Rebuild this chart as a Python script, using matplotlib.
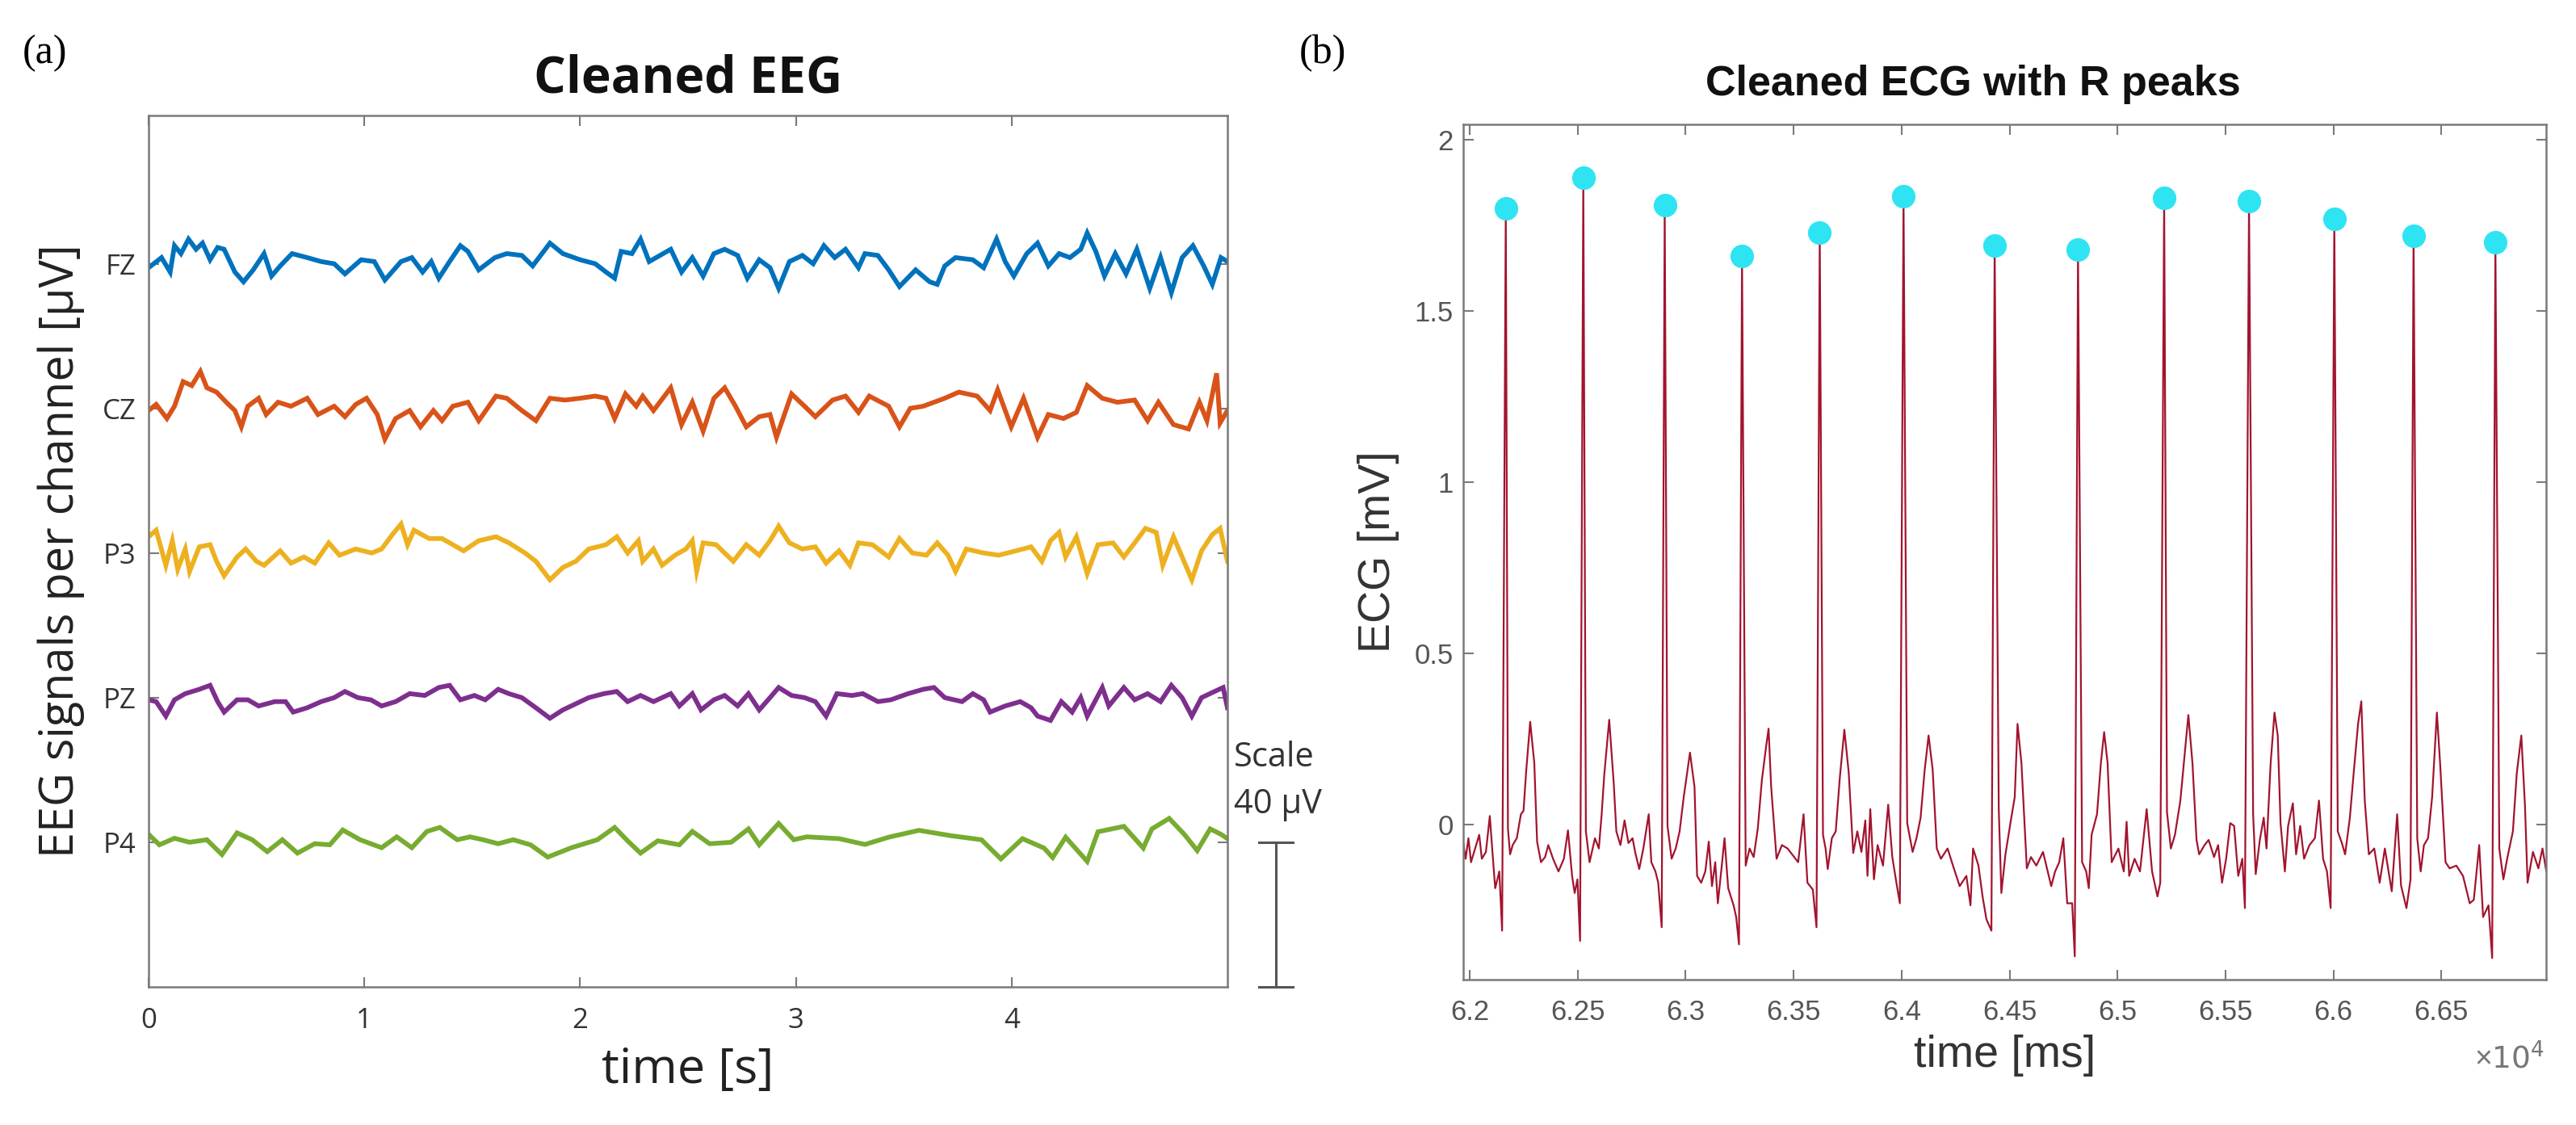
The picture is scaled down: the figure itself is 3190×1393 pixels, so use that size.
import numpy as np
import matplotlib.pyplot as plt
from matplotlib.ticker import FuncFormatter

# ---- EEG (panel a): channel names, vertical offsets in uV, MATLAB colours
channels = ['FZ', 'CZ', 'P3', 'PZ', 'P4']
offsets = [200, 160, 120, 80, 40]
eeg_colors = ['#0072BD', '#D95319', '#EDB120', '#7E2F8E', '#77AC30']

fz_t = [0.0, 0.06, 0.1, 0.12, 0.15, 0.185, 0.22, 0.25, 0.285, 0.32, 0.35, 0.4, 0.44, 0.485, 0.535, 0.57,
        0.61, 0.665, 0.735, 0.8, 0.86, 0.91, 0.985, 1.046, 1.095, 1.17, 1.22, 1.27, 1.31, 1.345, 1.395,
        1.445, 1.48, 1.53, 1.605, 1.66, 1.73, 1.78, 1.86, 1.92, 2.0, 2.07, 2.12, 2.16, 2.19, 2.24, 2.28,
        2.32, 2.37, 2.42, 2.47, 2.52, 2.57, 2.62, 2.67, 2.73, 2.775, 2.83, 2.88, 2.92, 2.97, 3.03, 3.08,
        3.13, 3.18, 3.23, 3.29, 3.32, 3.38, 3.43, 3.48, 3.555, 3.62, 3.655, 3.69, 3.74, 3.82, 3.87, 3.93,
        3.97, 4.01, 4.07, 4.12, 4.17, 4.22, 4.27, 4.32, 4.35, 4.39, 4.43, 4.48, 4.53, 4.58, 4.64, 4.69,
        4.74, 4.79, 4.84, 4.89, 4.93, 4.97, 5.0]
fz_v = [-1.1, 1.7, -2.3, 5, 2.8, 6.8, 4, 5.7, 1.1, 4.5, 4, -2.3, -5, -1.7, 2.8, -3.4,
        -0.6, 2.8, 1.7, 0.6, 0, -2.8, 1.1, 0.6, -4.5, 0.6, 1.7, -2.3, 0.6, -4, 0.6,
        5, 3.4, -1.7, 1.7, 2.8, 2.3, -0.6, 5.7, 2.8, 1.1, 0, -2.3, -4, 3.4, 2.8, 6.8,
        0.6, 2.3, 4, -2.3, 1.7, -3.4, 2.8, 4, 2.3, -4, 1.1, -1.1, -6.8, 0.6, 2.3, 0,
        5, 1.7, 4, -1.1, 2.8, 2.3, -1.7, -6.3, -1.7, -5, -5.7, -0.6, 1.7, 1.1, -1.1, 6.8,
        0.6, -3.4, 2.8, 5.7, -0.6, 2.8, 1.7, 4, 8.5, 3.4, -3.4, 2.8, -2.8, 4, -6.8, 1.7,
        -8, 1.7, 5, -0.6, -5.7, 1.7, 0.6]

cz_t = [0.0, 0.035, 0.085, 0.12, 0.16, 0.2, 0.24, 0.27, 0.315, 0.36, 0.4, 0.43, 0.46, 0.51, 0.545, 0.6,
        0.66, 0.735, 0.785, 0.86, 0.91, 0.96, 1.01, 1.06, 1.095, 1.145, 1.21, 1.26, 1.32, 1.36, 1.41,
        1.48, 1.53, 1.61, 1.66, 1.73, 1.795, 1.86, 1.93, 2.0, 2.07, 2.12, 2.16, 2.21, 2.26, 2.29, 2.34,
        2.42, 2.47, 2.52, 2.57, 2.62, 2.67, 2.72, 2.77, 2.83, 2.88, 2.91, 2.98, 3.04, 3.09, 3.17, 3.23,
        3.29, 3.34, 3.43, 3.48, 3.53, 3.59, 3.69, 3.755, 3.84, 3.9, 3.935, 3.998, 4.055, 4.12, 4.17,
        4.24, 4.3, 4.35, 4.42, 4.49, 4.57, 4.63, 4.68, 4.75, 4.82, 4.87, 4.905, 4.95, 4.966, 5.0]
cz_v = [-0.6, 1.1, -2.8, 0.6, 7.4, 6.3, 10.2, 5.7, 4.5, 1.7, -0.6, -5.1, 0.6, 2.8, -1.7, 1.7,
        0.6, 2.8, -1.7, 0.6, -2.3, 1.1, 2.8, -1.7, -8.5, -2.8, -0.6, -5.1, -0.6, -3.4, 0.6,
        1.7, -3.4, 3.4, 2.8, -0.6, -3.4, 2.8, 2.3, 2.8, 3.4, 2.8, -2.8, 4, 0.6, 3.4, -0.6,
        5.7, -4.5, 1.7, -6.3, 2.8, 5.7, 0.6, -5.1, -2.3, -1.7, -8, 4, 0.6, -2.3, 2.3, 3.4,
        -1.1, 3.4, 0.6, -5.1, 0, 0.6, 2.8, 4.5, 3.4, -0.6, 5.1, -5.1, 2.8, -8, -1.7,
        -2.8, -1.1, 6.3, 2.8, 1.7, 2.3, -3.4, 1.7, -4.5, -5.7, 1.7, -3.4, 9.7, -4, -0.6]

p3_t = [0.0, 0.035, 0.08, 0.11, 0.135, 0.17, 0.19, 0.235, 0.285, 0.315, 0.35, 0.41, 0.45, 0.5, 0.535,
        0.61, 0.66, 0.72, 0.77, 0.835, 0.885, 0.96, 1.034, 1.08, 1.13, 1.17, 1.2, 1.23, 1.3, 1.36, 1.41,
        1.46, 1.53, 1.61, 1.67, 1.745, 1.795, 1.86, 1.92, 1.98, 2.04, 2.12, 2.17, 2.22, 2.27, 2.29, 2.34,
        2.38, 2.44, 2.49, 2.52, 2.54, 2.57, 2.63, 2.71, 2.77, 2.83, 2.88, 2.92, 2.97, 3.03, 3.09, 3.14,
        3.2, 3.25, 3.29, 3.355, 3.43, 3.48, 3.54, 3.605, 3.655, 3.705, 3.74, 3.79, 3.87, 3.94, 4.02, 4.09,
        4.14, 4.18, 4.22, 4.25, 4.3, 4.35, 4.4, 4.47, 4.52, 4.57, 4.62, 4.67, 4.7, 4.75, 4.79, 4.835,
        4.88, 4.93, 4.966, 5.0]
p3_v = [4.5, 6.3, -3.4, 3.4, -4.5, 1.1, -5.1, 1.7, 2.3, -2.3, -6.3, -1.1, 1.1, -2.3, -3.4,
        0.6, -2.8, -1.1, -2.8, 2.8, -0.6, 1.1, 0, 1.1, 5.1, 8, 2.3, 6.3, 4, 4, 2.3,
        0.6, 3.4, 4.5, 2.8, 0, -2.3, -7.4, -4, -2.3, 1.1, 2.3, 4.5, 0, 3.4, -2.3, 1.1,
        -3.4, -0.6, 1.1, 3.4, -5.1, 2.8, 2.3, -2.3, 2.3, -0.6, 3.4, 7.4, 2.8, 1.1, 1.7, -2.8,
        0.6, -3.4, 2.8, 2.3, -1.1, 4, 0, -0.6, 2.8, -0.6, -5.1, 1.1, 0, -0.6, 0.6, 1.7,
        -2.3, 3.4, 5.7, -1.1, 4.5, -5.7, 2.3, 2.8, -1.1, 2.8, 6.8, 5.7, -3.4, 4.5, -1.1, -7.4,
        0.6, 5.1, 6.8, -2.3]

pz_t = [0.0, 0.035, 0.08, 0.12, 0.17, 0.235, 0.285, 0.32, 0.35, 0.41, 0.46, 0.51, 0.585, 0.635, 0.67,
        0.735, 0.8, 0.86, 0.91, 0.97, 1.03, 1.08, 1.145, 1.21, 1.28, 1.345, 1.395, 1.445, 1.51, 1.56,
        1.62, 1.67, 1.73, 1.795, 1.86, 1.92, 1.98, 2.04, 2.11, 2.17, 2.22, 2.28, 2.34, 2.42, 2.46, 2.52,
        2.56, 2.62, 2.67, 2.73, 2.78, 2.83, 2.88, 2.92, 2.98, 3.04, 3.09, 3.14, 3.19, 3.26, 3.31, 3.38,
        3.44, 3.52, 3.59, 3.64, 3.69, 3.77, 3.82, 3.87, 3.9, 3.97, 4.04, 4.09, 4.12, 4.18, 4.23, 4.28,
        4.32, 4.35, 4.42, 4.45, 4.52, 4.57, 4.63, 4.69, 4.74, 4.79, 4.835, 4.88, 4.94, 4.98, 5.0]
pz_v = [-0.6, -1.1, -5.1, -0.6, 1.1, 2.3, 3.4, -1.1, -4, -0.6, -0.6, -2.3, -1.1, -1.1, -4,
        -2.8, -1.1, 0, 1.7, 0, -0.6, -2.3, -1.1, 1.1, 0.6, 2.8, 3.4, -0.6, 0.6, -0.6,
        2.3, 1.1, 0, -2.8, -5.7, -3.4, -1.7, 0, 1.1, 1.7, -1.1, 0.6, -1.1, 1.1, -2.3, 1.1,
        -3.4, -0.6, 0.6, -2.3, 1.1, -3.4, 0, 2.8, 0.6, 0, -1.1, -5.1, 1.1, 0.6, 1.1, -1.1,
        -0.6, 1.1, 2.3, 2.8, 0, -1.1, 1.1, -0.6, -4, -2.3, -1.1, -2.8, -5.1, -6.3, -1.1, -4,
        0, -5.1, 2.8, -2.3, 2.8, -0.6, 1.1, -1.1, 3.4, 0, -5.1, 0, 1.7, 2.8, -2.8]

p4_t = [0.0, 0.05, 0.12, 0.19, 0.27, 0.34, 0.41, 0.48, 0.55, 0.62, 0.69, 0.77, 0.84, 0.9, 0.98,
        1.08, 1.15, 1.22, 1.29, 1.35, 1.43, 1.49, 1.55, 1.62, 1.69, 1.77, 1.85, 1.96, 2.08, 2.16, 2.22,
        2.28, 2.36, 2.46, 2.52, 2.6, 2.7, 2.78, 2.83, 2.92, 2.99, 3.05, 3.2, 3.32, 3.43, 3.57, 3.72,
        3.86, 3.95, 4.05, 4.15, 4.19, 4.25, 4.35, 4.4, 4.52, 4.61, 4.65, 4.73, 4.8, 4.86, 4.92, 4.97, 5.0]
p4_v = [2.2, -0.7, 1.1, 0, 0.7, -3.4, 2.6, 0.7, -2.6, 0.7, -3, -0.4, -0.7, 3.4, 0.7,
        -1.5, 1.5, -1.5, 3, 4.1, 0.7, 1.5, 0.7, -0.4, 0.7, -0.7, -4.1, -1.5, 0.7, 4.1, 0.4,
        -3, 0.4, -0.7, 3, -0.4, 0, 3.7, -0.7, 5.2, 0.7, 1.5, 1.0, -0.6, 1.4, 3.3, 1.8,
        0.7, -4.6, 1, -1.6, -4.2, 1.4, -5.3, 2.9, 4.4, -1.6, 3.7, 6.6, 2.2, -2.3, 3.7, 2.2, 1.0]

eeg_t = [fz_t, cz_t, p3_t, pz_t, p4_t]
eeg_v = [fz_v, cz_v, p3_v, pz_v, p4_v]

# ---- ECG (panel b): time in ms, amplitude in mV (R peaks kept separately)
ecg_t = [61969, 61981, 61994, 62006, 62025, 62044, 62056, 62075, 62093, 62106, 62118, 62137, 62150,
         62177, 62187, 62199, 62218, 62237, 62249, 62262, 62280, 62299, 62312, 62330, 62349, 62364,
         62386, 62411, 62436, 62455, 62474, 62486, 62499, 62511,
         62538, 62555, 62580, 62598, 62611, 62623, 62646, 62667, 62679, 62698, 62717, 62735, 62754,
         62767, 62785, 62804, 62829, 62841, 62860, 62873, 62889,
         62916, 62935, 62954, 62972, 62991, 63020, 63041, 63053, 63072, 63091, 63107, 63122, 63137,
         63149, 63166, 63180, 63197, 63222, 63234, 63247,
         63278, 63296, 63315, 63334, 63353, 63371, 63384, 63396, 63421, 63446, 63472, 63521, 63546,
         63564, 63589, 63606,
         63636, 63648, 63658, 63677, 63695, 63714, 63735, 63755, 63776, 63795, 63814, 63832, 63842,
         63855, 63872, 63889, 63914, 63938, 63957, 63976, 63992,
         64026, 64051, 64069, 64088, 64107, 64125, 64144, 64163, 64182, 64213, 64238, 64269, 64300,
         64319, 64331, 64356, 64375, 64393, 64416,
         64450, 64462, 64481, 64506, 64524, 64537, 64555, 64580, 64599, 64624, 64655, 64693, 64711,
         64730, 64749, 64767, 64790, 64802,
         64836, 64855, 64867, 64880, 64905, 64923, 64938, 64954, 64973, 65004, 65029, 65042, 65054,
         65079, 65104, 65135, 65160, 65185, 65198,
         65229, 65247, 65266, 65291, 65328, 65347, 65366, 65378, 65403, 65422, 65447, 65466, 65484,
         65503, 65522, 65540, 65559, 65578, 65590,
         65628, 65640, 65659, 65677, 65690, 65709, 65727, 65742, 65755, 65775, 65790, 65812, 65827,
         65846, 65864, 65889, 65914, 65933, 65952, 65970, 65987,
         66020, 66039, 66054, 66076, 66095, 66114, 66129, 66145, 66164, 66189, 66214, 66238, 66270,
         66295, 66313, 66338, 66357,
         66388, 66404, 66419, 66438, 66457, 66479, 66494, 66519, 66538, 66569, 66600, 66631, 66650,
         66675, 66693, 66718, 66735,
         66768, 66787, 66806, 66831, 66849, 66870, 66887, 66899, 66924, 66949, 66968, 66986]
ecg_v = [-0.05, -0.10, -0.04, -0.11, -0.07, -0.03, -0.10, -0.08, 0.025, -0.087, -0.186, -0.137, -0.31,
         -0.012, -0.087, -0.06, -0.04, 0.03, 0.04, 0.16, 0.30, 0.18, -0.05, -0.11, -0.095, -0.06,
         -0.10, -0.137, -0.10, -0.017, -0.15, -0.20, -0.16, -0.34,
         -0.02, -0.11, -0.04, -0.07, 0.03, 0.145, 0.306, 0.12, -0.02, -0.06, 0.012, -0.054, -0.04,
         -0.083, -0.13, -0.07, 0.03, -0.11, -0.137, -0.17, -0.30,
         -0.004, -0.10, -0.07, -0.02, 0.08, 0.21, 0.11, -0.15, -0.17, -0.137, -0.05, -0.18, -0.11,
         -0.23, -0.128, -0.04, -0.186, -0.236, -0.27, -0.35,
         -0.12, -0.07, -0.095, -0.012, 0.13, 0.22, 0.28, 0.11, -0.10, -0.06, -0.07, -0.11, 0.03,
         -0.17, -0.19, -0.30,
         -0.03, -0.07, -0.13, -0.04, -0.02, 0.137, 0.277, 0.153, -0.083, -0.02, -0.08, 0.012, -0.15,
         0.045, -0.16, -0.06, -0.12, 0.058, -0.095, -0.17, -0.23,
         0.004, -0.08, -0.04, 0.02, 0.16, 0.26, 0.16, -0.07, -0.10, -0.07, -0.12, -0.18, -0.15,
         -0.236, -0.07, -0.12, -0.21, -0.277, -0.31,
         0.045, -0.20, -0.087, 0.012, 0.08, 0.294, 0.18, -0.128, -0.095, -0.12, -0.08, -0.18, -0.137,
         -0.11, -0.04, -0.23, -0.23, -0.385,
         -0.11, -0.137, -0.186, -0.03, 0.03, 0.18, 0.27, 0.18, -0.11, -0.07, -0.137, 0.008, -0.15,
         -0.10, -0.137, 0.045, -0.137, -0.21, -0.17,
         0.037, -0.07, -0.03, 0.07, 0.32, 0.18, -0.045, -0.087, -0.06, -0.045, -0.095, -0.06, -0.17,
         -0.10, 0.004, -0.004, -0.15, -0.10, -0.244,
         0.03, -0.145, -0.045, 0.02, -0.07, 0.178, 0.327, 0.26, 0.004, -0.137, -0.004, 0.062, -0.087,
         -0.004, -0.10, -0.06, -0.04, 0.07, -0.10, -0.137, -0.244,
         -0.02, -0.054, -0.087, 0.02, 0.16, 0.294, 0.36, 0.07, -0.087, -0.07, -0.17, -0.07, -0.195,
         0.03, -0.178, -0.244, -0.16,
         -0.04, -0.137, -0.06, -0.04, 0.08, 0.327, 0.178, -0.11, -0.128, -0.12, -0.15, -0.23, -0.22,
         -0.06, -0.27, -0.236, -0.39,
         -0.07, -0.16, -0.095, -0.02, 0.15, 0.26, 0.054, -0.17, -0.08, -0.128, -0.07, -0.137]

r_t = [62167, 62526, 62903, 63261, 63621, 64009, 64431, 64817, 65216, 65609, 66004, 66371, 66750]
r_v = [1.80, 1.89, 1.81, 1.66, 1.73, 1.835, 1.69, 1.68, 1.83, 1.82, 1.77, 1.72, 1.70]

ecg_ticks = [62000, 62500, 63000, 63500, 64000, 64500, 65000, 65500, 66000, 66500]
ecg_yticks = [0, 0.5, 1, 1.5, 2]

spine_col = '#7a7a7a'
left_font = 'Open Sans'
right_font = 'Liberation Sans'

plt.rcParams['mathtext.fontset'] = 'custom'
plt.rcParams['mathtext.rm'] = right_font

fig = plt.figure(figsize=(31.9, 13.93), dpi=100)

# ================= (a) Cleaned EEG =================
ax1 = fig.add_axes([0.05768, 0.12275, 0.41881, 0.77459])
for t, v, off, c in zip(eeg_t, eeg_v, offsets, eeg_colors):
    ax1.plot(t, np.array(v) + off, color=c, lw=4.2, solid_joinstyle='miter')
ax1.set_xlim(0, 5)
ax1.set_ylim(0, 241)
ax1.set_xticks([0, 1, 2, 3, 4])
ax1.set_yticks(offsets)
ax1.set_yticklabels(channels)
ax1.tick_params(axis='x', pad=18)
ax1.tick_params(axis='y', pad=11)
for lab in ax1.get_xticklabels() + ax1.get_yticklabels():
    lab.set_fontfamily(left_font)
    lab.set_fontsize(25)
    lab.set_color('#333333')
ax1.set_xlabel('time [s]', fontsize=44, family=left_font, color='#222222', labelpad=10)
ax1.set_ylabel('EEG signals per channel [µV]', fontsize=41.5, family=left_font, color='#222222',
               labelpad=16)
fig.text(0.2671, 0.918, 'Cleaned EEG', fontsize=45, family=left_font, fontweight='bold',
         ha='center', va='baseline', color='#111111')

# scale bar (40 uV) just outside the axes
bar_x = 5.225
ax1.plot([bar_x, bar_x], [0, 40], color='#555555', lw=2.2, clip_on=False)
ax1.plot([bar_x - 0.08, bar_x + 0.08], [40, 40], color='#555555', lw=2.2, clip_on=False)
ax1.plot([bar_x - 0.08, bar_x + 0.08], [0, 0], color='#555555', lw=2.2, clip_on=False)
ax1.text(5.03, 63.5, 'Scale', fontsize=30, family=left_font, color='#333333', va='center',
         clip_on=False)
ax1.text(5.03, 50.5, '40 µV', fontsize=30, family=left_font, color='#333333', va='center',
         clip_on=False)

# ================= (b) Cleaned ECG with R peaks =================
ax2 = fig.add_axes([0.56803, 0.12922, 0.42038, 0.76023])
t_all = np.concatenate([ecg_t, r_t])
v_all = np.concatenate([ecg_v, r_v])
order = np.argsort(t_all)
ax2.plot(t_all[order], v_all[order], color='#A2142F', lw=1.6)
ax2.plot(r_t, r_v, 'o', ms=20, mfc='#2EE4F2', mec='#2EE4F2', zorder=3)
ax2.set_xlim(61970, 66985)
ax2.set_ylim(-0.453, 2.045)
ax2.set_xticks(ecg_ticks)
ax2.set_yticks(ecg_yticks)
ax2.xaxis.set_major_formatter(FuncFormatter(lambda x, pos: f'{x / 1e4:g}'))
ax2.yaxis.set_major_formatter(FuncFormatter(lambda y, pos: f'{y:g}'))
ax2.tick_params(axis='x', pad=17)
ax2.tick_params(axis='y', pad=9)
for lab in ax2.get_xticklabels() + ax2.get_yticklabels():
    lab.set_fontfamily(right_font)
    lab.set_fontsize(25)
    lab.set_color('#555555')
ax2.set_xlabel('time [ms]', fontsize=40, family=right_font, color='#333333', labelpad=8)
ax2.set_ylabel('ECG [mV]', fontsize=40, family=right_font, color='#333333', labelpad=13)
fig.text(0.7658, 0.915, 'Cleaned ECG with R peaks', fontsize=37.5, family=right_font,
         fontweight='bold', ha='center', va='baseline', color='#111111')
fig.text(0.9605, 0.0589, r'$\times\mathregular{10^4}$', fontsize=27, color='#777777',
         va='center')

for ax in (ax1, ax2):
    for s in ax.spines.values():
        s.set_color(spine_col)
        s.set_linewidth(1.8)
    ax.tick_params(direction='in', length=9, width=1.5, color=spine_col, top=True, right=True)

# panel letters
fig.text(0.0088, 0.953, '(a)', fontsize=36, family='Liberation Serif', va='center')
fig.text(0.5044, 0.953, '(b)', fontsize=36, family='Liberation Serif', va='center')

fig.savefig('out.png', dpi=100)
